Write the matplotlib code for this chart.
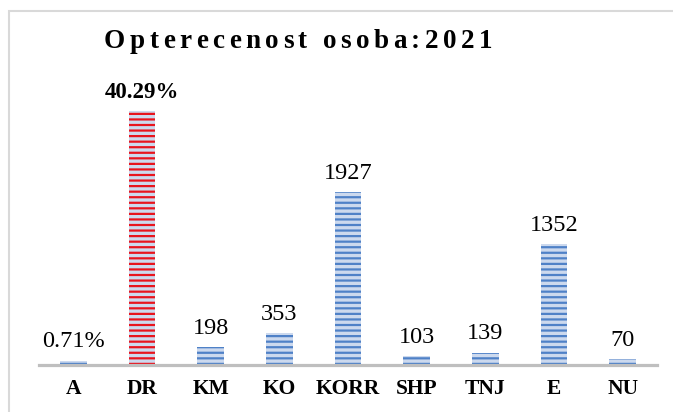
import matplotlib.pyplot as plt
from matplotlib.patches import Rectangle

categories = ['A', 'DR', 'KM', 'KO', 'KORR', 'SHP', 'TNJ', 'E', 'NU']
values = [50, 2829, 198, 353, 1927, 103, 139, 1352, 70]
value_labels = ['0.71%', '40.29%', '198', '353', '1927', '103', '139', '1352', '70']
title = 'Opterecenost osoba:2021'

plt.rcParams['font.family'] = 'Liberation Serif'
plt.rcParams['hatch.linewidth'] = 1.6

W, H = 673, 412
fig = plt.figure(figsize=(W / 100, H / 100), dpi=100)

# light grey frame around the chart area (right/bottom edges fall outside the image)
fig.patches.append(Rectangle((9 / W, -0.05), 1.1, 1 - 11 / H + 0.05, transform=fig.transFigure,
                             fill=False, edgecolor='#D9D9D9', linewidth=1.5))

ax = fig.add_axes([39 / W, 1 - 365 / H, 618 / W, 269 / H])

hatch_colors = ['#4F81C7'] * len(categories)
hatch_colors[1] = '#E8141E'
x = list(range(len(categories)))
bars = ax.bar(x, values, width=0.39, color='#CCD9EE', edgecolor=hatch_colors,
              linewidth=0, hatch='---', zorder=2)

for i, (v, lab) in enumerate(zip(values, value_labels)):
    bold = lab == '40.29%'
    ax.annotate(lab, (i, v), xytext=(0, 9.5), textcoords='offset points',
                ha='center', va='baseline', fontsize=16.5 if bold else 17.5,
                fontweight='bold' if bold else 'normal')

ax.axhline(0, color='#BFBFBF', linewidth=2.3, zorder=3, clip_on=False)
ax.set_xlim(-0.5, 8.5)
ax.set_ylim(0, 3000)
ax.set_xticks(x)
ax.set_xticklabels(categories, fontsize=15.5, fontweight='bold')
ax.tick_params(axis='x', length=0, pad=10)
ax.set_yticks([])
for s in ax.spines.values():
    s.set_visible(False)

# title with wide letter spacing, placed char by char
fig.canvas.draw()
r = fig.canvas.get_renderer()
tsize = 19.5
widths = []
for ch in title:
    if ch == ' ':
        widths.append(tsize * 0.25 * 100 / 72)
        continue
    t = fig.text(0, 0, ch, fontsize=tsize, fontweight='bold')
    widths.append(t.get_window_extent(r).width)
    t.remove()
left, right = 104, 492
track = (right - left - sum(widths)) / (len(title) - 1)
xpos = left
for ch, w in zip(title, widths):
    if ch != ' ':
        fig.text(xpos / W, 1 - 48 / H, ch, fontsize=tsize, fontweight='bold',
                 ha='left', va='baseline')
    xpos += w + track

fig.savefig('out.png', dpi=100)
